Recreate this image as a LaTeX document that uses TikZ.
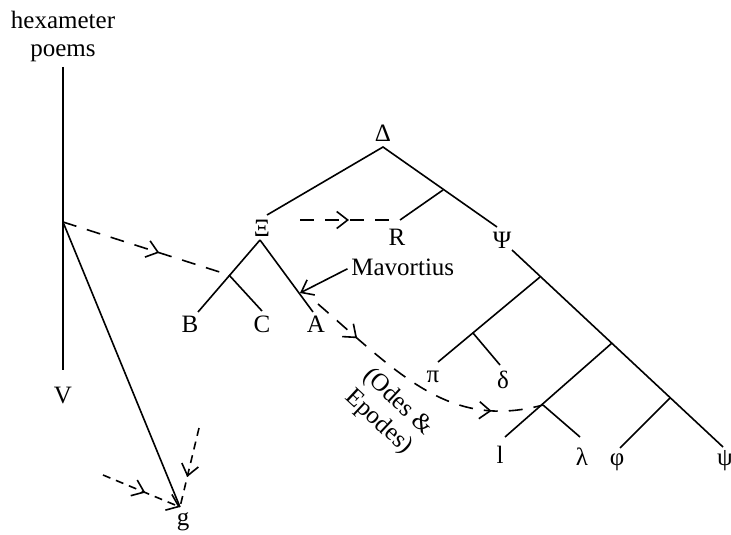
\documentclass[tikz,border=0pt]{standalone}
\usepackage{fontspec}
\setmainfont{Liberation Serif}
\usetikzlibrary{arrows.meta,decorations.markings}
\tikzset{
  lbl/.style={inner sep=0pt,font=\fontsize{12.5}{14}\selectfont},
  tree/.style={line width=0.8pt},
  dashline/.style={line width=0.8pt,dash pattern=on 7pt off 5.5pt},
  shortdash/.style={line width=0.8pt,dash pattern=on 4pt off 3pt},
  barb/.tip={Straight Barb[length=5.5pt,width=8.5pt]},
  midarrow/.style={postaction={decorate},decoration={markings,mark=at position #1 with {\arrow{barb}}}}
}
\begin{document}
\begin{tikzpicture}[x=0.5pt,y=-0.5pt]
\path[use as bounding box] (0,0) rectangle (731,534);
% hexameter poems
\node[lbl,align=center,anchor=north] (hex) at (63,11) {hexameter\\poems};
\coordinate (H) at (63,67);
\coordinate (P) at (63,222);
\coordinate (Vend) at (63,370);
\node[lbl] (V) at (63,395) {V};
\coordinate (G) at (180,507);
\node[lbl] (g) at (183,522) {g};
\coordinate (gl) at (103,475);
\coordinate (gt) at (199,428);
% upper tree
\coordinate (D) at (383,147);
\node[lbl] (Delta) at (383,133) {Δ};
\coordinate (XiTop) at (267,215);
\node[lbl] (Xi) at (262,228) {Ξ};
\coordinate (XiBot) at (260,240);
\coordinate (J1) at (229,275);
\coordinate (Bend) at (198,312);
\coordinate (Cend) at (262,311);
\coordinate (Aend) at (313,312);
\node[lbl] (B) at (190,324) {B};
\node[lbl] (C) at (262,324) {C};
\node[lbl] (A) at (316,324) {A};
\node[lbl,anchor=west] (Mav) at (351,267) {Mavortius};
\coordinate (M1) at (300,293);
\coordinate (S) at (318,304);
\coordinate (J2) at (443,190);
\coordinate (Rc) at (400,220);
\coordinate (XR) at (300,220);
\node[lbl] (R) at (397,237) {R};
\coordinate (PsiTop) at (497,227);
\node[lbl] (Psi) at (502,240) {Ψ};
\coordinate (PsiBot) at (512,250);
\coordinate (K1) at (540,277);
\coordinate (K2) at (612,343);
\coordinate (K3) at (670,398);
\coordinate (psiend) at (723,447);
\node[lbl] (psi) at (725,461) {ψ};
\coordinate (L1) at (473,333);
\coordinate (piend) at (438,362);
\coordinate (deltaend) at (500,365);
\node[lbl] (pi) at (433,377) {π};
\node[lbl] (delta) at (503,380) {δ};
\coordinate (L2) at (543,405);
\coordinate (lend) at (505,437);
\coordinate (lambdaend) at (580,437);
\node[lbl] (l) at (500,455) {l};
\node[lbl] (lambda) at (582,457) {λ};
\coordinate (phiend) at (620,448);
\node[lbl] (phi) at (617,462) {φ};
\node[lbl,align=center,rotate=-43] (odes) at (388,412) {(Odes \&\\Epodes)};
% solid lines
\draw[tree] (H) -- (Vend);
\draw[tree] (P) -- (G);
\draw[tree] (XiTop) -- (D) -- (PsiTop);
\draw[tree] (J2) -- (Rc);
\draw[tree] (XiBot) -- (Bend);
\draw[tree] (J1) -- (Cend);
\draw[tree] (XiBot) -- (Aend);
\draw[tree,-barb,shorten <=2pt] (Mav.west) -- (M1);
\draw[tree] (PsiBot) -- (psiend);
\draw[tree] (K1) -- (piend);
\draw[tree] (L1) -- (deltaend);
\draw[tree] (K2) -- (lend);
\draw[tree] (L2) -- (lambdaend);
\draw[tree] (K3) -- (phiend);
% dashed
\draw[dashline,midarrow=0.58] (P) -- (J1);
\draw[dashline,midarrow=0.49] (XR) -- (Rc);
\draw[dashline,postaction={decorate},decoration={markings,
  mark=at position 0.2 with {\arrow{barb}},
  mark=at position 0.8 with {\arrow{barb}}}]
  (S) .. controls (400,375) and (450,430) .. (L2);
\draw[shortdash,midarrow=0.55,-barb] (gl) -- (G);
\draw[shortdash,midarrow=0.62] (gt) -- (G);
\end{tikzpicture}
\end{document}
